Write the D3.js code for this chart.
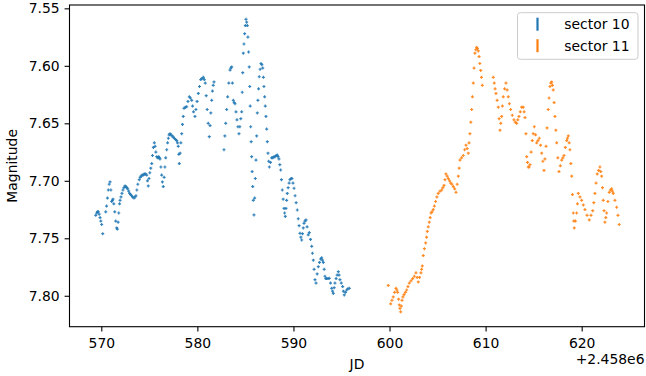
<!DOCTYPE html>
<html>
<head>
<meta charset="utf-8">
<script src="https://cdn.jsdelivr.net/npm/d3@7"></script>
<style>
  body { margin: 0; background: #fff; }
  text { font-family: "DejaVu Sans", sans-serif; }
</style>
</head>
<body>
<svg></svg>
<script>
// JD - 2458000, magnitude
var sector10 = [
  [569.42,7.730],[569.52,7.728],[569.60,7.727],[569.69,7.727],[569.78,7.729],[569.87,7.732],[569.95,7.735],[570.04,7.738],[570.15,7.746],
  [570.46,7.727],[570.55,7.722],[570.64,7.715],[570.73,7.708],[570.82,7.703],[570.91,7.701],[571.00,7.708],[571.08,7.718],[571.15,7.717],
  [571.22,7.716],[571.30,7.720],[571.40,7.727],[571.50,7.735],[571.60,7.741],[571.67,7.742],[571.75,7.736],[571.82,7.728],[571.90,7.720],
  [571.95,7.717],[572.05,7.714],[572.15,7.711],[572.25,7.708],[572.35,7.706],[572.47,7.7045],[572.56,7.705],[572.64,7.706],[572.75,7.707],
  [572.85,7.709],[572.95,7.711],[573.05,7.712],[573.15,7.713],[573.25,7.714],[573.40,7.715],[573.50,7.714],[573.61,7.713],[573.70,7.708],
  [573.80,7.703],[573.95,7.699],[574.05,7.697],[574.15,7.696],[574.25,7.695],[574.37,7.695],[574.48,7.694],[574.60,7.694],[574.73,7.695],
  [574.81,7.700],[574.89,7.7045],[574.97,7.698],[575.05,7.693],[575.15,7.689],[575.25,7.685],[575.33,7.678],[575.42,7.671],[575.52,7.667],
  [575.60,7.670],[575.68,7.675],[575.77,7.679],[575.87,7.680],[575.97,7.679],[576.04,7.680],[576.11,7.681],[576.20,7.688],[576.28,7.695],
  [576.36,7.701],[576.45,7.705],[576.54,7.697],[576.62,7.688],[576.70,7.680],[576.81,7.673],[576.90,7.667],[576.98,7.663],[577.06,7.660],
  [577.15,7.659],[577.25,7.660],[577.37,7.661],[577.49,7.662],[577.60,7.663],[577.72,7.664],[577.85,7.665],[577.93,7.667],[578.01,7.670],
  [578.07,7.677],[578.12,7.685],[578.20,7.676],[578.28,7.667],[578.37,7.659],[578.45,7.651],[578.53,7.644],[578.61,7.637],[578.75,7.636],
  [578.89,7.6356],[579.02,7.631],[579.16,7.627],[579.28,7.628],[579.41,7.630],[579.50,7.635],[579.60,7.640],[579.75,7.644],[579.85,7.638],
  [579.97,7.631],[580.10,7.624],[580.22,7.618],[580.35,7.612],[580.48,7.611],[580.62,7.610],[580.72,7.612],[580.82,7.615],[580.92,7.626],
  [581.02,7.638],[581.13,7.650],[581.24,7.6616],[581.32,7.652],[581.40,7.641],[581.49,7.630],[581.57,7.622],[581.65,7.617],[581.73,7.614],
  [582.77,7.673],[582.86,7.661],[582.95,7.650],[583.05,7.638],[583.15,7.627],[583.27,7.615],[583.40,7.6037],[583.48,7.602],[583.57,7.601],
  [583.65,7.615],[583.74,7.630],[583.83,7.632],[583.92,7.633],[584.02,7.640],[584.12,7.647],[584.22,7.653],[584.33,7.659],[584.42,7.653],
  [584.52,7.646],[584.61,7.640],[584.67,7.623],[584.72,7.606],[584.78,7.589],[584.85,7.581],[584.92,7.572],[584.99,7.565],[585.06,7.5596],
  [585.13,7.562],[585.20,7.565],[585.26,7.575],[585.33,7.588],[585.40,7.601],[585.45,7.618],[585.50,7.635],[585.55,7.653],[585.60,7.666],
  [585.65,7.679],[585.70,7.692],[585.76,7.705],[585.82,7.717],[585.89,7.7297],[585.96,7.715],[586.03,7.698],[586.10,7.682],[586.17,7.661],
  [586.24,7.641],[586.30,7.630],[586.37,7.620],[586.44,7.6095],[586.53,7.603],[586.62,7.598],[586.71,7.599],[586.80,7.602],[586.87,7.610],
  [586.93,7.618],[587.00,7.627],[587.07,7.635],[587.14,7.644],[587.21,7.655],[587.28,7.666],[587.35,7.676],[587.42,7.683],[587.49,7.688],
  [587.61,7.684],[587.73,7.680],[587.85,7.680],[587.97,7.679],[588.08,7.679],[588.20,7.678],[588.32,7.6776],[588.40,7.679],[588.49,7.681],
  [588.58,7.686],[588.67,7.6906],[588.75,7.699],[588.84,7.708],[588.93,7.716],[589.02,7.724],[589.08,7.728],[589.15,7.731],[589.22,7.724],
  [589.29,7.717],[589.36,7.711],[589.45,7.706],[589.55,7.702],[589.64,7.699],[589.75,7.698],[589.85,7.698],[589.95,7.702],[590.06,7.7065],
  [590.17,7.713],[590.28,7.719],[590.40,7.7254],[590.50,7.733],[590.59,7.739],[590.68,7.7457],[590.77,7.749],[590.86,7.7515],[590.94,7.746],
  [591.02,7.741],[591.10,7.737],[591.20,7.735],[591.31,7.734],[591.42,7.740],[591.54,7.747],[591.65,7.745],[591.78,7.751],[591.90,7.757],
  [591.98,7.763],[592.07,7.769],[592.15,7.777],[592.24,7.786],[592.35,7.789],[592.47,7.781],[592.59,7.7747],[592.71,7.771],[592.82,7.768],
  [592.94,7.767],[593.02,7.769],[593.11,7.771],[593.20,7.777],[593.28,7.783],[593.37,7.785],[593.46,7.785],[593.60,7.785],[593.73,7.7848],
  [593.86,7.789],[593.98,7.7935],[594.07,7.796],[594.15,7.798],[594.24,7.793],[594.32,7.789],[594.44,7.785],[594.55,7.782],[594.67,7.779],
  [594.75,7.782],[594.84,7.786],[594.98,7.789],[595.12,7.792],[595.20,7.796],[595.29,7.7993],[595.42,7.797],[595.54,7.795],[595.67,7.794],
  [595.81,7.7935]
];

var sector11 = [
  [599.87,7.791],
  [600.12,7.807],[600.25,7.804],[600.39,7.801],[600.53,7.797],[600.67,7.7935],[600.76,7.795],[600.85,7.797],[600.94,7.803],[601.02,7.808],
  [601.09,7.811],[601.16,7.814],[601.23,7.809],[601.30,7.804],[601.40,7.801],[601.51,7.799],[601.65,7.797],[601.79,7.795],[601.92,7.792],
  [602.06,7.789],[602.24,7.787],[602.41,7.785],[602.58,7.783],[602.75,7.780],[602.87,7.784],[602.99,7.788],[603.13,7.784],[603.27,7.780],
  [603.34,7.777],[603.41,7.774],[603.51,7.765],[603.63,7.759],[603.76,7.754],[603.85,7.749],[603.93,7.744],[604.03,7.740],[604.14,7.736],
  [604.23,7.732],[604.32,7.728],[604.43,7.727],[604.55,7.725],[604.67,7.722],[604.80,7.718],[604.93,7.714],[605.07,7.711],[605.25,7.709],
  [605.43,7.708],[605.55,7.706],[605.67,7.704],[605.77,7.699],[605.87,7.694],[606.00,7.696],[606.12,7.698],[606.25,7.700],[606.37,7.702],
  [606.50,7.703],[606.64,7.705],[606.78,7.707],[606.92,7.710],[607.04,7.703],[607.16,7.696],[607.25,7.689],[607.33,7.682],[607.50,7.680],
  [607.68,7.678],[607.82,7.673],[607.96,7.669],[608.08,7.672],[608.20,7.676],[608.28,7.667],[608.37,7.659],[608.46,7.649],[608.55,7.638],
  [608.63,7.627],[608.72,7.615],[608.80,7.602],[608.89,7.589],[608.98,7.586],[609.07,7.584],[609.15,7.585],[609.24,7.587],[609.32,7.592],
  [609.40,7.598],[609.49,7.604],[609.57,7.610],[609.66,7.617],
  [610.80,7.610],[610.90,7.615],[610.99,7.620],[611.08,7.624],[611.20,7.630],[611.32,7.636],[611.41,7.646],[611.50,7.656],[611.58,7.650],
  [611.67,7.644],[611.75,7.635],[611.84,7.627],[611.98,7.620],[612.12,7.615],[612.24,7.621],[612.36,7.627],[612.48,7.633],[612.61,7.638],
  [612.78,7.643],[612.95,7.647],[613.09,7.649],[613.23,7.650],[613.35,7.647],[613.47,7.644],[613.61,7.640],[613.75,7.636],[613.92,7.636],
  [614.01,7.640],[614.10,7.645],[614.20,7.659],
  [614.28,7.679],[614.36,7.684],[614.44,7.688],[614.53,7.688],[614.62,7.686],[614.74,7.675],[614.86,7.665],[614.96,7.659],[615.07,7.653],
  [615.20,7.660],[615.32,7.667],[615.45,7.665],[615.59,7.663],[615.72,7.669],[615.84,7.676],[615.96,7.683],[616.08,7.691],[616.18,7.681],
  [616.29,7.670],[616.40,7.654],[616.52,7.638],[616.61,7.628],[616.70,7.618],[616.79,7.615],[616.88,7.614],[616.96,7.617],[617.04,7.621],
  [617.13,7.632],[617.22,7.644],[617.31,7.656],[617.40,7.667],[617.52,7.680],[617.64,7.692],[617.78,7.687],[617.92,7.682],[618.04,7.680],
  [618.16,7.678],[618.30,7.671],[618.44,7.665],[618.52,7.663],[618.61,7.661],[618.70,7.667],[618.78,7.673],[618.87,7.685],[618.96,7.696],
  [619.04,7.712],[619.13,7.728],[619.18,7.735],[619.23,7.741],[619.35,7.735],[619.48,7.728],[619.56,7.720],[619.65,7.711],[619.82,7.714],
  [620.00,7.717],[620.17,7.721],[620.34,7.725],[620.56,7.730],[620.79,7.734],[620.97,7.730],[621.15,7.726],[621.26,7.719],[621.38,7.711],
  [621.50,7.702],[621.62,7.694],[621.76,7.691],[621.90,7.688],[621.99,7.692],[622.08,7.696],[622.17,7.706],[622.25,7.717],[622.33,7.726],
  [622.42,7.736],[622.51,7.732],[622.60,7.728],[622.73,7.718],[622.87,7.710],[622.99,7.708],[623.12,7.707],[623.20,7.709],[623.29,7.711],
  [623.46,7.717],[623.64,7.723],[623.78,7.730],[623.91,7.738]
];

var xTicks = [570, 580, 590, 600, 610, 620];
var yTicks = [7.55, 7.60, 7.65, 7.70, 7.75, 7.80];
var seriesNames = ['sector 10', 'sector 11'];
var seriesColors = ['#1f77b4', '#ff7f0e'];
var xOffsetLabel = '+2.458e6';

var width = 646, height = 376;
var plot = {left: 69.5, right: 644.5, top: 5, bottom: 326.7};
var fs = 13.9;

var svg = d3.select('svg')
    .attr('width', width)
    .attr('height', height);

var x = d3.scaleLinear().domain([566.69, 626.54]).range([plot.left, plot.right]);
var y = d3.scaleLinear().domain([7.5471, 7.8269]).range([plot.top, plot.bottom]);

var series = [sector10, sector11];
var marks = svg.append('g');
series.forEach((pts, i) => {
    marks.append('g')
        .selectAll('path')
        .data(pts)
        .enter()
        .append('path')
            .attr('transform', (d) => 'translate(' + x(d[0]) + ',' + y(d[1]) + ')')
            .attr('d', 'M-1.5,0h3M0,-1.5v3')
            .attr('stroke', seriesColors[i])
            .attr('stroke-width', 1.2)
            .attr('opacity', 0.9);
});

var xAxis = svg.append('g')
    .attr('transform', 'translate(0,' + plot.bottom + ')')
    .call(d3.axisBottom(x).tickValues(xTicks).tickSize(4.9).tickPadding(6.3).tickFormat(d3.format('d')));
var yAxis = svg.append('g')
    .attr('transform', 'translate(' + plot.left + ',0)')
    .call(d3.axisLeft(y).tickValues(yTicks).tickSize(4.9).tickPadding(4.9).tickFormat(d3.format('.2f')));

[xAxis, yAxis].forEach((g) => {
    g.select('.domain').remove();
    g.selectAll('line').attr('stroke', '#000').attr('stroke-width', 1.1);
    g.selectAll('text')
        .attr('font-family', '"DejaVu Sans", sans-serif')
        .attr('font-size', fs)
        .attr('fill', '#000');
});

svg.append('rect')
    .attr('x', plot.left)
    .attr('y', plot.top)
    .attr('width', plot.right - plot.left)
    .attr('height', plot.bottom - plot.top)
    .attr('fill', 'none')
    .attr('stroke', '#000')
    .attr('stroke-width', 1.1);

svg.append('text')
    .attr('x', (plot.left + plot.right) / 2)
    .attr('y', 369)
    .attr('text-anchor', 'middle')
    .attr('font-size', fs)
    .text('JD');

svg.append('text')
    .attr('x', plot.right)
    .attr('y', 364)
    .attr('text-anchor', 'end')
    .attr('font-size', fs)
    .text(xOffsetLabel);

svg.append('text')
    .attr('transform', 'translate(17,' + ((plot.top + plot.bottom) / 2) + ') rotate(-90)')
    .attr('text-anchor', 'middle')
    .attr('font-size', fs)
    .text('Magnitude');

// legend
var legend = svg.append('g');
legend.append('rect')
    .attr('x', 517.5).attr('y', 12.7)
    .attr('width', 120.5).attr('height', 46.6)
    .attr('rx', 2.8)
    .attr('fill', '#fff').attr('fill-opacity', 0.8)
    .attr('stroke', '#cccccc').attr('stroke-width', 1);
seriesNames.forEach((name, i) => {
    var cy = 24.2 + i * 21.5;
    legend.append('line')
        .attr('x1', 537.5).attr('x2', 537.5)
        .attr('y1', cy - 6.5).attr('y2', cy + 6.5)
        .attr('stroke', seriesColors[i])
        .attr('stroke-width', 2.2);
    legend.append('text')
        .attr('x', 564.3)
        .attr('y', cy + 5)
        .attr('font-size', fs)
        .text(name);
});
</script>
</body>
</html>
